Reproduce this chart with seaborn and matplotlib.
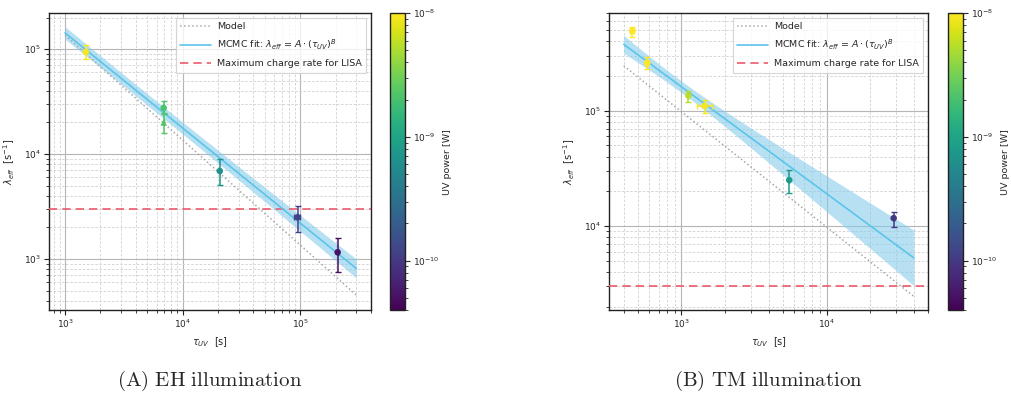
import numpy as np
import pandas as pd
import matplotlib
matplotlib.use("Agg")
import matplotlib.pyplot as plt
from matplotlib.colors import LogNorm
import seaborn as sns

# ---- measured charge rates, EH illumination ----
eh_tau = [1500, 6900, 6900, 2.07e4, 9.5e4, 2.08e5]
eh_lam = [9.4e4, 2.75e4, 2.0e4, 6.9e3, 2.5e3, 1.16e3]
eh_lam_lo = [8.0e4, 2.4e4, 1.6e4, 5.1e3, 1.8e3, 7.6e2]
eh_lam_hi = [1.1e5, 3.2e4, 2.45e4, 9.0e3, 3.2e3, 1.6e3]
eh_tau_lo = [1500, 6900, 6900, 2.07e4, 8.8e4, 2.08e5]
eh_tau_hi = [1500, 6900, 6900, 2.07e4, 1.0e5, 2.08e5]
eh_power = [9.5e-9, 2.1e-9, 2.3e-9, 7.0e-10, 1.2e-10, 5.0e-11]
eh_marker = ["o", "o", "^", "o", "o", "o"]

# ---- measured charge rates, TM illumination ----
tm_tau = [459, 580, 1117, 1443, 5530, 2.9e4]
tm_lam = [4.9e5, 2.6e5, 1.35e5, 1.1e5, 2.5e4, 1.17e4]
tm_lam_lo = [4.38e5, 2.3e5, 1.2e5, 9.6e4, 1.92e4, 9.9e3]
tm_lam_hi = [5.35e5, 2.9e5, 1.49e5, 1.24e5, 3.06e4, 1.33e4]
tm_tau_lo = [445, 560, 1117, 1290, 5530, 2.9e4]
tm_tau_hi = [473, 600, 1117, 1620, 5530, 2.9e4]
tm_power = [1.0e-8, 1.0e-8, 5.5e-9, 9.5e-9, 8.0e-10, 1.0e-10]
tm_marker = ["o", "o", "o", "o", "o", "o"]

# ---- model curves: lambda = C / tau ----
eh_model_C = 1.36e8
tm_model_C = 9.8e7

# ---- MCMC power-law fit (pivot form) and its 1-sigma spread in log10 ----
eh_fit = dict(tau_min=1e3, tau_max=3e5, tau0=10**3.6, lam0=4.08e4, B=-0.906, sig0=0.055, sigB=0.038)
tm_fit = dict(tau_min=4e2, tau_max=4e4, tau0=1e3, lam0=1.61e5, B=-0.926, sig0=0.05, sigB=0.147)

# ---- axis ranges ----
eh_xlim, eh_ylim = (731, 4.0e5), (327, 2.2e5)
tm_xlim, tm_ylim = (317, 5.0e4), (1870, 7.0e5)

lisa_max_rate = 3000.0
power_range = (4.0e-11, 1.0e-8)

captions = [r"$\mathrm{(A)\ EH\ illumination}$", r"$\mathrm{(B)\ TM\ illumination}$"]

sns.set_theme(style="ticks")
plt.rcParams["font.family"] = ["DejaVu Sans"]
plt.rcParams["mathtext.fontset"] = "dejavusans"

norm = LogNorm(vmin=power_range[0], vmax=power_range[1])
cmap = plt.get_cmap("viridis")

fig = plt.figure(figsize=(10.11, 3.99), dpi=100)
ax_pos = [[0.0485, 0.223, 0.3185, 0.744], [0.6024, 0.223, 0.3155, 0.744]]
cb_pos = [[0.3858, 0.223, 0.0148, 0.744], [0.9377, 0.223, 0.0148, 0.744]]

fit_color = "#5bc4ea"
band_color = "#87ceeb"
lisa_color = "#ec5a6c"


def draw_panel(ax, cax, tau, lam, lo, hi, tlo, thi, power, markers, model_C, fit,
               xlim, ylim, caption):
    ax.set_xscale("log")
    ax.set_yscale("log")

    tgrid = np.logspace(np.log10(fit["tau_min"]), np.log10(fit["tau_max"]), 200)
    dl = np.log10(tgrid / fit["tau0"])
    logfit = np.log10(fit["lam0"]) + fit["B"] * dl
    spread = np.sqrt(fit["sig0"] ** 2 + (fit["sigB"] * dl) ** 2)

    ax.fill_between(tgrid, 10 ** (logfit - spread), 10 ** (logfit + spread),
                    color=band_color, alpha=0.6, linewidth=0, zorder=2)
    sns.lineplot(x=tgrid, y=model_C / tgrid, ax=ax, color="#a8a8a8", linestyle=":",
                 linewidth=1.1, label="Model", zorder=3)
    sns.lineplot(x=tgrid, y=10 ** logfit, ax=ax, color=fit_color, linewidth=1.2,
                 label=r"MCMC fit: $\lambda_{eff}$ = $A\cdot(\tau_{UV})^B$", zorder=4)
    ax.axhline(lisa_max_rate, color=lisa_color, linestyle=(0, (5, 3)), linewidth=1.2,
               label="Maximum charge rate for LISA", zorder=3)

    df = pd.DataFrame({"tau": tau, "lam": lam, "power": power, "marker": markers})
    for i in range(len(tau)):
        c = cmap(norm(power[i]))
        ax.errorbar([tau[i]], [lam[i]],
                    yerr=[[lam[i] - lo[i]], [hi[i] - lam[i]]],
                    xerr=[[tau[i] - tlo[i]], [thi[i] - tau[i]]],
                    fmt="none", ecolor=c, elinewidth=1.1, capsize=2.5, capthick=1.0, zorder=5)
    sns.scatterplot(data=df, x="tau", y="lam", hue="power", hue_norm=norm, palette="viridis",
                    style="marker", markers={"o": "o", "^": "^"}, s=22, linewidth=0,
                    legend=False, ax=ax, zorder=6)

    ax.set_xlim(*xlim)
    ax.set_ylim(*ylim)

    ax.grid(True, which="major", color="#b5b5b5", linewidth=0.8, linestyle="-")
    ax.grid(True, which="minor", color="#d0d0d0", linewidth=0.6, linestyle=(0, (3, 2)))
    ax.set_axisbelow(True)
    for s in ax.spines.values():
        s.set_color("#222222")
        s.set_linewidth(1.0)
    ax.tick_params(which="major", labelsize=6.5, length=3.5, width=0.8, color="#222222", pad=2)
    ax.tick_params(which="minor", length=2, width=0.6, color="#222222")

    ax.set_xlabel(r"$\tau_{UV}$  [s]", fontsize=7, labelpad=4)
    ax.set_ylabel(r"$\lambda_{eff}$  $[\mathrm{s}^{-1}]$", fontsize=7, labelpad=5)

    leg = ax.legend(loc="upper right", fontsize=6.8, frameon=True, fancybox=False,
                    borderpad=0.45, handlelength=3.2, handletextpad=0.7, labelspacing=0.75)
    leg.get_frame().set_edgecolor("#cccccc")
    leg.get_frame().set_linewidth(0.8)

    sm = plt.cm.ScalarMappable(norm=norm, cmap=cmap)
    cb = fig.colorbar(sm, cax=cax)
    cb.set_label("UV power [W]", fontsize=6.8, labelpad=3)
    cb.ax.tick_params(which="major", labelsize=6.5, length=3.5, width=0.8, pad=2)
    cb.ax.tick_params(which="minor", length=2, width=0.6)
    cb.outline.set_linewidth(1.0)
    cb.outline.set_edgecolor("#222222")

    pos = ax.get_position()
    with plt.rc_context({"mathtext.fontset": "cm"}):
        fig.text(pos.x0 + pos.width / 2, 0.045, caption, ha="center", va="center",
                 fontsize=15)


ax1 = fig.add_axes(ax_pos[0])
cax1 = fig.add_axes(cb_pos[0])
draw_panel(ax1, cax1, eh_tau, eh_lam, eh_lam_lo, eh_lam_hi, eh_tau_lo, eh_tau_hi,
           eh_power, eh_marker, eh_model_C, eh_fit, eh_xlim, eh_ylim, captions[0])

ax2 = fig.add_axes(ax_pos[1])
cax2 = fig.add_axes(cb_pos[1])
draw_panel(ax2, cax2, tm_tau, tm_lam, tm_lam_lo, tm_lam_hi, tm_tau_lo, tm_tau_hi,
           tm_power, tm_marker, tm_model_C, tm_fit, tm_xlim, tm_ylim, captions[1])

fig.savefig("out.png", dpi=100)
